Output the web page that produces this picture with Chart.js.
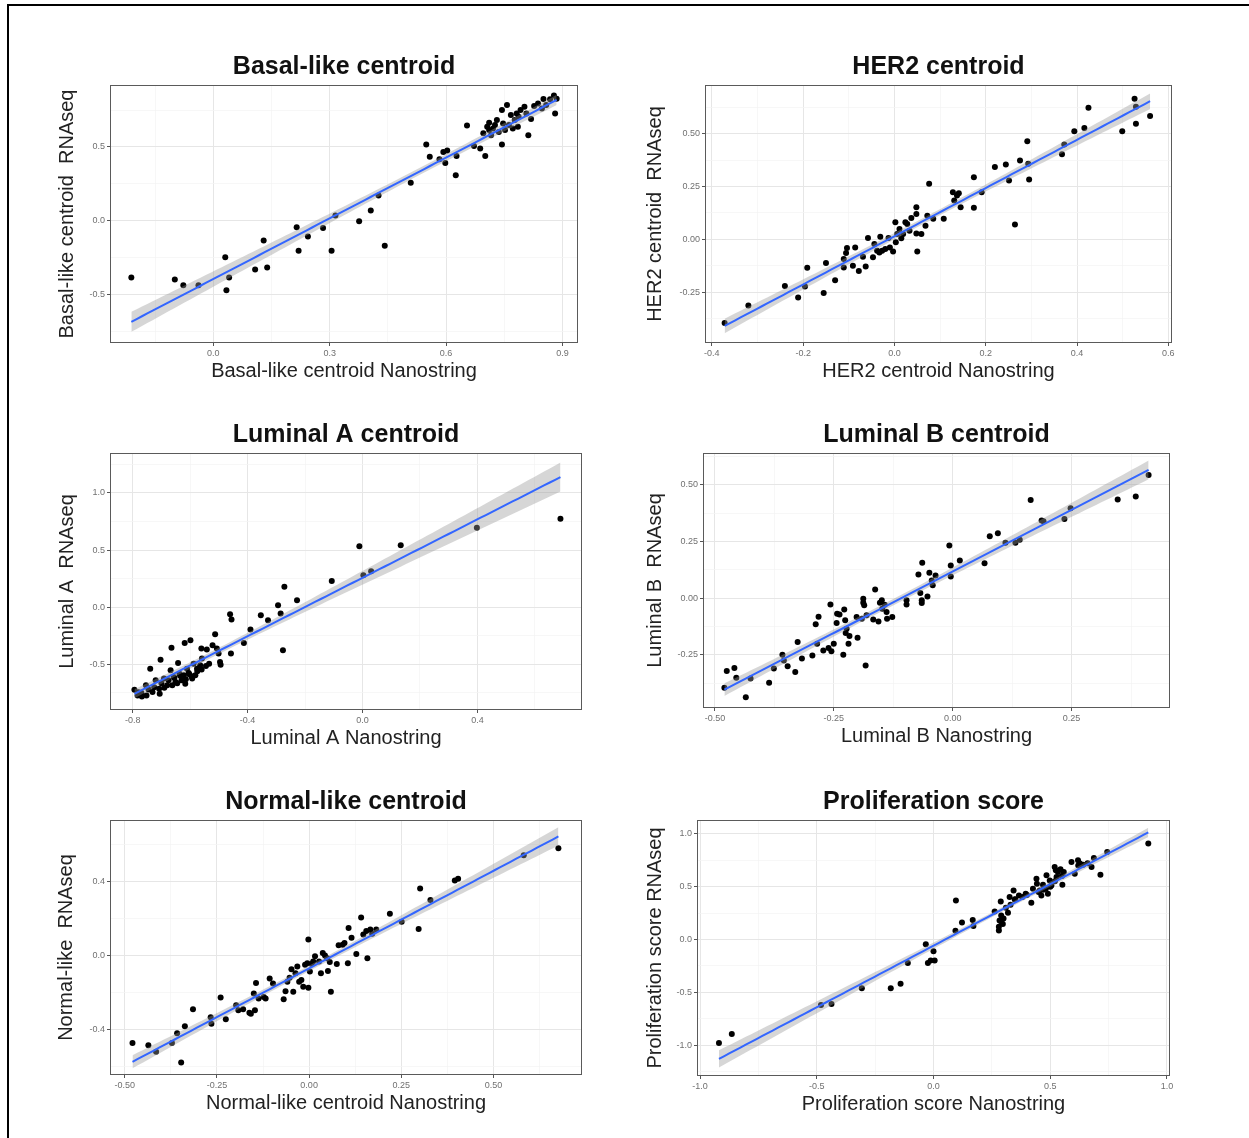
<!DOCTYPE html>
<html>
<head>
<meta charset="utf-8">
<script src="https://cdn.jsdelivr.net/npm/chart.js@4.4.0/dist/chart.umd.min.js"></script>
<style>
  body { margin: 0; background: #fff; }
  #page { position: relative; width: 1249px; height: 1138px; overflow: hidden; background: #fff; }
  #edge { position: absolute; left: 7px; top: 4px; width: 1300px; height: 1200px; border-left: 2px solid #000; border-top: 2px solid #000; }
  canvas { position: absolute; }
</style>
</head>
<body>
<div id="page">
  <div id="edge"></div>
  <canvas id="c0"></canvas>
  <canvas id="c1"></canvas>
  <canvas id="c2"></canvas>
  <canvas id="c3"></canvas>
  <canvas id="c4"></canvas>
  <canvas id="c5"></canvas>
</div>
<script>
// panel text
const panelTitles = ['Basal-like centroid', 'HER2 centroid', 'Luminal A centroid', 'Luminal B centroid', 'Normal-like centroid', 'Proliferation score'];
const xTitles = ['Basal-like centroid Nanostring', 'HER2 centroid Nanostring', 'Luminal A Nanostring', 'Luminal B Nanostring', 'Normal-like centroid Nanostring', 'Proliferation score Nanostring'];
const yTitles = ['Basal-like centroid  RNAseq', 'HER2 centroid  RNAseq', 'Luminal A  RNAseq', 'Luminal B  RNAseq', 'Normal-like  RNAseq', 'Proliferation score RNAseq'];

// tick labels (major breaks)
const basalXTicks = [0.0, 0.3, 0.6, 0.9];
const basalYTicks = [-0.5, 0.0, 0.5];
const her2XTicks = [-0.4, -0.2, 0.0, 0.2, 0.4, 0.6];
const her2YTicks = [-0.25, 0.0, 0.25, 0.5];
const lumAXTicks = [-0.8, -0.4, 0.0, 0.4];
const lumAYTicks = [-0.5, 0.0, 0.5, 1.0];
const lumBXTicks = [-0.5, -0.25, 0.0, 0.25];
const lumBYTicks = [-0.25, 0.0, 0.25, 0.5];
const normalXTicks = [-0.5, -0.25, 0.0, 0.25, 0.5];
const normalYTicks = [-0.4, 0.0, 0.4];
const prolifXTicks = [-1.0, -0.5, 0.0, 0.5, 1.0];
const prolifYTicks = [-1.0, -0.5, 0.0, 0.5, 1.0];

// samples: [Nanostring, RNAseq]
const basalPts = [[-0.211,-0.386],[-0.099,-0.400],[-0.077,-0.439],[-0.038,-0.439],[0.031,-0.248],[0.034,-0.473],[0.041,-0.386],[0.108,-0.332],[0.130,-0.134],[0.139,-0.318],[0.215,-0.045],[0.220,-0.205],[0.244,-0.107],[0.283,-0.050],[0.305,-0.205],[0.315,0.034],[0.376,-0.005],[0.406,0.068],[0.426,0.170],[0.442,-0.170],[0.509,0.257],[0.549,0.516],[0.558,0.434],[0.583,0.416],[0.593,0.466],[0.598,0.391],[0.603,0.475],[0.625,0.307],[0.627,0.439],[0.654,0.645],[0.672,0.507],[0.688,0.489],[0.696,0.593],[0.701,0.439],[0.706,0.636],[0.711,0.664],[0.711,0.614],[0.716,0.580],[0.721,0.625],[0.726,0.648],[0.731,0.682],[0.736,0.602],[0.744,0.750],[0.744,0.516],[0.747,0.659],[0.752,0.614],[0.757,0.784],[0.762,0.648],[0.767,0.716],[0.772,0.625],[0.777,0.682],[0.782,0.727],[0.785,0.636],[0.787,0.705],[0.792,0.750],[0.802,0.773],[0.807,0.727],[0.812,0.580],[0.819,0.689],[0.827,0.777],[0.837,0.795],[0.847,0.761],[0.851,0.825],[0.858,0.784],[0.868,0.823],[0.878,0.848],[0.881,0.727],[0.885,0.827]];

const her2Pts = [[-0.372,-0.396],[-0.320,-0.313],[-0.240,-0.220],[-0.211,-0.275],[-0.196,-0.223],[-0.191,-0.134],[-0.155,-0.253],[-0.150,-0.112],[-0.130,-0.193],[-0.111,-0.133],[-0.111,-0.093],[-0.106,-0.065],[-0.104,-0.041],[-0.091,-0.125],[-0.086,-0.038],[-0.078,-0.149],[-0.069,-0.082],[-0.063,-0.128],[-0.058,0.006],[-0.047,-0.085],[-0.044,-0.022],[-0.038,-0.054],[-0.033,-0.062],[-0.031,0.013],[-0.027,-0.054],[-0.020,-0.046],[-0.013,0.006],[-0.010,-0.038],[-0.003,-0.057],[0.002,0.081],[0.003,-0.014],[0.006,0.025],[0.011,0.049],[0.015,0.005],[0.019,0.025],[0.024,0.081],[0.028,0.073],[0.033,0.041],[0.037,0.101],[0.048,0.152],[0.048,0.120],[0.048,0.028],[0.050,-0.057],[0.059,0.025],[0.068,0.065],[0.072,0.112],[0.076,0.263],[0.085,0.097],[0.108,0.097],[0.128,0.223],[0.131,0.184],[0.137,0.207],[0.141,0.218],[0.145,0.152],[0.174,0.294],[0.174,0.149],[0.191,0.223],[0.220,0.342],[0.244,0.354],[0.251,0.278],[0.264,0.070],[0.275,0.373],[0.291,0.464],[0.293,0.358],[0.295,0.283],[0.367,0.402],[0.372,0.449],[0.394,0.511],[0.416,0.527],[0.425,0.622],[0.499,0.511],[0.526,0.665],[0.529,0.547],[0.529,0.627],[0.560,0.584]];

const lumAPts = [[-0.794,-0.722],[-0.783,-0.772],[-0.780,-0.745],[-0.770,-0.750],[-0.768,-0.781],[-0.754,-0.684],[-0.752,-0.772],[-0.745,-0.720],[-0.739,-0.538],[-0.731,-0.743],[-0.725,-0.700],[-0.720,-0.640],[-0.708,-0.713],[-0.706,-0.757],[-0.703,-0.459],[-0.700,-0.665],[-0.691,-0.625],[-0.690,-0.705],[-0.680,-0.684],[-0.675,-0.640],[-0.668,-0.553],[-0.665,-0.354],[-0.662,-0.684],[-0.657,-0.611],[-0.655,-0.620],[-0.651,-0.655],[-0.645,-0.665],[-0.642,-0.488],[-0.637,-0.582],[-0.635,-0.600],[-0.630,-0.640],[-0.622,-0.596],[-0.619,-0.313],[-0.617,-0.670],[-0.615,-0.630],[-0.611,-0.538],[-0.605,-0.575],[-0.603,-0.588],[-0.599,-0.289],[-0.595,-0.605],[-0.593,-0.625],[-0.588,-0.494],[-0.582,-0.596],[-0.576,-0.538],[-0.575,-0.560],[-0.565,-0.509],[-0.561,-0.362],[-0.560,-0.545],[-0.559,-0.450],[-0.545,-0.515],[-0.542,-0.371],[-0.534,-0.494],[-0.522,-0.333],[-0.513,-0.237],[-0.507,-0.362],[-0.501,-0.406],[-0.496,-0.480],[-0.494,-0.504],[-0.461,-0.061],[-0.456,-0.108],[-0.458,-0.406],[-0.413,-0.313],[-0.390,-0.196],[-0.354,-0.070],[-0.329,-0.114],[-0.294,0.018],[-0.285,-0.055],[-0.277,-0.377],[-0.272,0.178],[-0.228,0.061],[-0.107,0.229],[0.003,0.279],[0.030,0.314],[-0.011,0.534],[0.133,0.543],[0.398,0.695],[0.689,0.774]];

const lumBPts = [[-0.480,-0.396],[-0.475,-0.322],[-0.459,-0.308],[-0.455,-0.351],[-0.435,-0.438],[-0.425,-0.355],[-0.386,-0.374],[-0.376,-0.311],[-0.358,-0.250],[-0.355,-0.275],[-0.347,-0.301],[-0.331,-0.326],[-0.326,-0.194],[-0.317,-0.267],[-0.295,-0.253],[-0.288,-0.115],[-0.282,-0.082],[-0.285,-0.201],[-0.272,-0.231],[-0.261,-0.220],[-0.257,-0.028],[-0.255,-0.235],[-0.250,-0.201],[-0.244,-0.110],[-0.243,-0.069],[-0.238,-0.073],[-0.230,-0.250],[-0.228,-0.050],[-0.226,-0.098],[-0.225,-0.154],[-0.223,-0.135],[-0.219,-0.201],[-0.217,-0.167],[-0.202,-0.084],[-0.200,-0.175],[-0.191,-0.091],[-0.188,-0.003],[-0.188,-0.021],[-0.186,-0.032],[-0.183,-0.297],[-0.181,-0.076],[-0.167,-0.095],[-0.163,0.038],[-0.156,-0.103],[-0.153,-0.021],[-0.149,-0.010],[-0.148,-0.047],[-0.143,-0.029],[-0.139,-0.062],[-0.138,-0.091],[-0.127,-0.084],[-0.097,-0.010],[-0.097,-0.028],[-0.072,0.104],[-0.068,0.022],[-0.065,-0.010],[-0.064,0.156],[-0.065,-0.022],[-0.053,0.007],[-0.049,0.112],[-0.044,0.078],[-0.042,0.056],[-0.036,0.100],[-0.007,0.232],[-0.004,0.144],[-0.004,0.095],[0.015,0.166],[0.067,0.154],[0.078,0.273],[0.095,0.286],[0.111,0.244],[0.132,0.244],[0.141,0.257],[0.164,0.433],[0.187,0.342],[0.191,0.339],[0.235,0.349],[0.248,0.396],[0.347,0.435],[0.385,0.448],[0.412,0.543]];

const normalPts = [[-0.479,-0.473],[-0.436,-0.484],[-0.415,-0.520],[-0.372,-0.473],[-0.358,-0.420],[-0.347,-0.578],[-0.337,-0.382],[-0.315,-0.291],[-0.267,-0.333],[-0.265,-0.369],[-0.240,-0.227],[-0.226,-0.345],[-0.198,-0.269],[-0.192,-0.296],[-0.179,-0.291],[-0.162,-0.309],[-0.158,-0.315],[-0.150,-0.205],[-0.147,-0.296],[-0.144,-0.149],[-0.137,-0.233],[-0.123,-0.224],[-0.118,-0.233],[-0.107,-0.124],[-0.098,-0.151],[-0.069,-0.236],[-0.064,-0.193],[-0.059,-0.142],[-0.053,-0.120],[-0.048,-0.075],[-0.043,-0.196],[-0.037,-0.096],[-0.032,-0.060],[-0.027,-0.142],[-0.021,-0.133],[-0.016,-0.169],[-0.011,-0.051],[-0.005,-0.042],[-0.002,0.085],[-0.002,-0.175],[0.002,-0.087],[0.007,-0.047],[0.011,-0.033],[0.016,-0.005],[0.027,-0.033],[0.032,-0.096],[0.037,0.013],[0.043,0.000],[0.049,-0.015],[0.051,-0.084],[0.056,-0.036],[0.059,-0.196],[0.075,-0.047],[0.080,0.055],[0.091,0.058],[0.096,0.067],[0.105,-0.042],[0.107,0.147],[0.115,0.095],[0.128,0.007],[0.141,0.204],[0.147,0.113],[0.155,0.131],[0.158,-0.015],[0.166,0.140],[0.171,0.116],[0.182,0.140],[0.219,0.225],[0.251,0.182],[0.297,0.142],[0.301,0.360],[0.329,0.298],[0.395,0.404],[0.404,0.413],[0.582,0.540],[0.676,0.578]];

const prolifPts = [[-0.919,-0.979],[-0.864,-0.894],[-0.482,-0.618],[-0.437,-0.609],[-0.307,-0.460],[-0.183,-0.460],[-0.141,-0.418],[-0.110,-0.222],[-0.033,-0.044],[-0.024,-0.222],[-0.012,-0.197],[0.000,-0.111],[0.005,-0.197],[0.096,0.368],[0.094,0.082],[0.122,0.162],[0.168,0.184],[0.171,0.127],[0.262,0.265],[0.280,0.085],[0.283,0.180],[0.290,0.227],[0.297,0.148],[0.288,0.360],[0.319,0.253],[0.326,0.401],[0.343,0.464],[0.348,0.379],[0.366,0.417],[0.381,0.401],[0.395,0.433],[0.419,0.348],[0.426,0.480],[0.441,0.575],[0.443,0.528],[0.455,0.464],[0.462,0.417],[0.469,0.518],[0.481,0.480],[0.484,0.607],[0.490,0.433],[0.498,0.559],[0.505,0.512],[0.519,0.685],[0.524,0.654],[0.527,0.591],[0.533,0.638],[0.544,0.664],[0.552,0.518],[0.558,0.638],[0.591,0.733],[0.605,0.623],[0.619,0.749],[0.627,0.718],[0.641,0.708],[0.677,0.685],[0.687,0.771],[0.715,0.613],[0.744,0.827],[0.920,0.907],[0.300,0.200],[0.310,0.300],[0.330,0.330],[0.350,0.380],[0.400,0.420],[0.450,0.450],[0.500,0.500],[0.520,0.550],[0.470,0.470],[0.550,0.600],[0.620,0.700],[0.660,0.720],[0.290,0.170],[0.280,0.120]];

// layout of each panel: plot frame left, top, width, height, axis limits, gap to y title
const panels = [
  { pts: basalPts,  xt: basalXTicks,  yt: basalYTicks,  xd: 1, yd: 1, box: [110, 85, 468, 258],  xr: [-0.266, 0.94],  yr: [-0.83, 0.92],  gap: 43 },
  { pts: her2Pts,   xt: her2XTicks,   yt: her2YTicks,   xd: 1, yd: 2, box: [705, 85, 467, 258],  xr: [-0.415, 0.608], yr: [-0.49, 0.73],  gap: 50 },
  { pts: lumAPts,   xt: lumAXTicks,   yt: lumAYTicks,   xd: 1, yd: 1, box: [110, 453, 472, 257], xr: [-0.879, 0.764], yr: [-0.90, 1.35],  gap: 43 },
  { pts: lumBPts,   xt: lumBXTicks,   yt: lumBYTicks,   xd: 2, yd: 2, box: [703, 453, 467, 255], xr: [-0.525, 0.457], yr: [-0.485, 0.64], gap: 48 },
  { pts: normalPts, xt: normalXTicks, yt: normalYTicks, xd: 2, yd: 1, box: [110, 820, 472, 255], xr: [-0.54, 0.74],   yr: [-0.645, 0.73], gap: 44 },
  { pts: prolifPts, xt: prolifXTicks, yt: prolifYTicks, xd: 1, yd: 1, box: [697, 820, 473, 256], xr: [-1.013, 1.013], yr: [-1.29, 1.13],  gap: 42 }
];

const YW = 62, TH = 35, XH = 45, PR = 12;
Chart.defaults.font.family = "'Liberation Sans', Arial, Helvetica, sans-serif";

// lm fit with 95% confidence band, like geom_smooth(method = 'lm')
function smooth(pts) {
  const n = pts.length;
  const mx = pts.reduce((s, p) => s + p[0], 0) / n;
  const my = pts.reduce((s, p) => s + p[1], 0) / n;
  let sxx = 0, sxy = 0;
  pts.forEach(p => { sxx += (p[0] - mx) ** 2; sxy += (p[0] - mx) * (p[1] - my); });
  const b = sxy / sxx, a = my - b * mx;
  let sse = 0;
  pts.forEach(p => { sse += (p[1] - a - b * p[0]) ** 2; });
  const s = Math.sqrt(sse / (n - 2));
  const t = 1.96 + 2.37 / (n - 2);
  const xs = pts.map(p => p[0]);
  const lo = Math.min(...xs), hi = Math.max(...xs);
  const fit = [], low = [], up = [];
  for (let i = 0; i <= 80; i++) {
    const x = lo + (hi - lo) * i / 80;
    const yh = a + b * x;
    const se = s * Math.sqrt(1 / n + (x - mx) ** 2 / sxx);
    fit.push({ x, y: yh });
    low.push({ x, y: yh - t * se });
    up.push({ x, y: yh + t * se });
  }
  return { fit, low, up };
}

// major + minor breaks inside the limits
function breaks(major, range) {
  const step = major[1] - major[0];
  const out = [];
  for (let i = -20; i <= 40; i++) {
    const v = +(major[0] + i * step / 2).toFixed(6);
    if (v >= range[0] - 1e-9 && v <= range[1] + 1e-9) out.push({ value: v, minor: i % 2 !== 0 });
  }
  return out;
}

const framePlugin = {
  id: 'frame',
  afterDraw(chart) {
    const { ctx, chartArea: c } = chart;
    ctx.save();
    ctx.strokeStyle = '#5a5a5a';
    ctx.lineWidth = 1;
    ctx.strokeRect(c.left + 0.5, c.top + 0.5, c.right - c.left - 1, c.bottom - c.top - 1);
    ctx.restore();
  }
};

function axis(p, horizontal) {
  const major = horizontal ? p.xt : p.yt;
  const range = horizontal ? p.xr : p.yr;
  const dec = horizontal ? p.xd : p.yd;
  return {
    type: 'linear',
    position: horizontal ? 'bottom' : 'left',
    min: range[0],
    max: range[1],
    afterBuildTicks: sc => { sc.ticks = breaks(major, range); },
    afterFit: sc => { if (horizontal) sc.height = XH; else sc.width = YW; },
    border: { display: false },
    grid: {
      color: c => (c.tick && c.tick.minor ? '#f3f3f3' : '#e6e6e6'),
      lineWidth: c => (c.tick && c.tick.minor ? 0.7 : 1),
      tickColor: c => (c.tick && c.tick.minor ? 'rgba(0,0,0,0)' : '#555'),
      tickLength: 3,
      drawTicks: true
    },
    ticks: {
      autoSkip: false,
      maxRotation: 0,
      padding: 2,
      color: '#707070',
      font: { size: 9 },
      callback: (v, i, ticks) => (ticks[i].minor ? '' : Number(v).toFixed(dec))
    },
    title: {
      display: true,
      text: horizontal ? xTitles[p.idx] : yTitles[p.idx],
      color: '#222',
      font: { size: 20 },
      padding: horizontal ? { top: 0, bottom: 5 } : { top: YW - p.gap - 12, bottom: 0 }
    }
  };
}

panels.forEach((p, idx) => {
  p.idx = idx;
  const [l, t, w, h] = p.box;
  const cv = document.getElementById('c' + idx);
  cv.width = YW + w + PR;
  cv.height = TH + h + XH;
  cv.style.left = (l - YW) + 'px';
  cv.style.top = (t - TH) + 'px';
  const sm = smooth(p.pts);
  new Chart(cv, {
    type: 'scatter',
    data: {
      datasets: [
        {
          data: sm.fit, showLine: true, borderColor: '#3366FF', borderWidth: 2,
          pointRadius: 0, fill: false, order: 0
        },
        {
          data: sm.low, showLine: true, borderWidth: 0, borderColor: 'rgba(0,0,0,0)',
          pointRadius: 0, fill: false, order: 1
        },
        {
          data: sm.up, showLine: true, borderWidth: 0, borderColor: 'rgba(0,0,0,0)',
          pointRadius: 0, fill: '-1', backgroundColor: 'rgba(153,153,153,0.4)', order: 1
        },
        {
          data: p.pts.map(q => ({ x: q[0], y: q[1] })),
          pointRadius: 3, pointBackgroundColor: '#000', pointBorderWidth: 0,
          backgroundColor: '#000', order: 2
        }
      ]
    },
    options: {
      responsive: false,
      animation: false,
      devicePixelRatio: 1,
      layout: { padding: { left: 0, right: PR, top: 0, bottom: 0 } },
      plugins: {
        legend: { display: false },
        tooltip: { enabled: false },
        title: {
          display: true,
          text: panelTitles[idx],
          fullSize: false,
          color: '#111',
          font: { size: 25, weight: 'bold', lineHeight: 1 },
          padding: { top: 5, bottom: 5 }
        }
      },
      scales: { x: axis(p, true), y: axis(p, false) }
    },
    plugins: [framePlugin]
  });
});
</script>
</body>
</html>
